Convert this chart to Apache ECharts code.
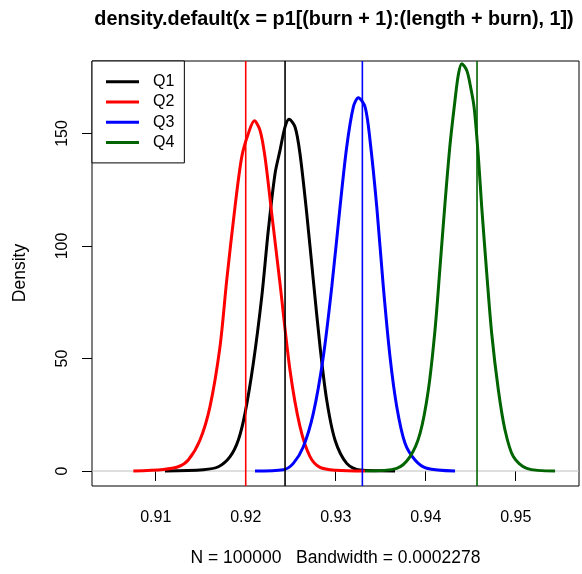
<!DOCTYPE html>
<html>
<head>
<meta charset="utf-8">
<script src="https://cdn.jsdelivr.net/npm/echarts@6/dist/echarts.min.js"></script>
<style>
html,body{margin:0;padding:0;background:#fff;}
#c{width:582px;height:574px;}
</style>
</head>
<body>
<div id="c"></div>
<script>
const xTicks = [0.91, 0.92, 0.93, 0.94, 0.95];
const yTicks = [0, 50, 100, 150];
const seriesNames = ['Q1', 'Q2', 'Q3', 'Q4'];
const seriesColors = ['#000000', '#ff0000', '#0000ff', '#006400'];
const markValues = [0.92437, 0.9200, 0.93296, 0.9457];

const q1 = [[0.91103,0],[0.91529,0.6],[0.91696,1.9],[0.91826,6.4],[0.91918,13.8],[0.91992,25.6],[0.92084,47.8],[0.92178,77.4],[0.92251,107],[0.92326,132.2],[0.92381,142.5],[0.92437,152.9],[0.92481,156.3],[0.92548,152.9],[0.92603,141],[0.92678,114.4],[0.92751,84.8],[0.92826,55.2],[0.929,31.5],[0.92992,13.8],[0.93122,3.4],[0.9327,0.4],[0.93659,0]];
const q2 = [[0.90751,0],[0.91084,0.7],[0.91251,1.9],[0.91362,4.9],[0.91492,13.8],[0.91603,28.6],[0.91714,55.2],[0.91789,84.8],[0.91881,117.4],[0.91956,139.6],[0.92029,150],[0.92096,155.6],[0.92159,151.4],[0.92214,139.6],[0.92289,114.4],[0.92381,83.3],[0.92492,44.8],[0.92603,19.7],[0.92714,6.4],[0.92826,1.6],[0.9300,0.3],[0.93326,0]];
const q3 = [[0.92103,0],[0.92418,0.6],[0.92529,3.4],[0.9264,10.8],[0.92751,25.6],[0.92862,50.8],[0.92956,81.8],[0.93048,117.4],[0.93122,144],[0.93196,161.8],[0.93251,165.9],[0.93326,161.8],[0.93381,147],[0.93456,117.4],[0.93529,81.8],[0.93603,50.8],[0.93678,28.6],[0.9377,12.3],[0.93881,4.9],[0.94011,1.2],[0.94326,0]];
const q4 = [[0.93326,0],[0.93678,1.2],[0.93826,6.4],[0.93937,16.7],[0.94029,36],[0.94103,62.6],[0.94159,90.7],[0.94214,118.9],[0.9427,145],[0.94326,165],[0.94362,176],[0.9440,181],[0.94456,178],[0.94492,172],[0.94537,161.8],[0.94584,140],[0.94622,117.4],[0.94678,87.8],[0.94733,61.1],[0.94807,36],[0.94881,18.2],[0.94973,6.4],[0.95122,1.2],[0.95437,0]];
const curves = [q1, q2, q3, q4];

const X_MIN = 0.90292, X_MAX = 0.95703, Y_MIN = -6.66, Y_MAX = 182.2;
const FONT = "'Liberation Sans', Arial, Helvetica, sans-serif";
const chart = echarts.init(document.getElementById('c'), null, {renderer: 'canvas'});

const series = [];
// zero reference line (gray)
series.push({
  type: 'line', data: [[X_MIN, 0], [X_MAX, 0]], showSymbol: false, symbol: 'none', silent: true,
  lineStyle: {color: '#bebebe', width: 1}, z: 1, animation: false
});
curves.forEach((d, i) => {
  series.push({
    name: seriesNames[i], type: 'line', data: d, showSymbol: false, symbol: 'none',
    smooth: 0.3, color: seriesColors[i], itemStyle: {color: seriesColors[i]},
    lineStyle: {color: seriesColors[i], width: 3}, z: 3, silent: true, animation: false
  });
});
markValues.forEach((v, i) => {
  series.push({
    type: 'line', data: [[v, Y_MIN], [v, Y_MAX]], showSymbol: false, symbol: 'none', silent: true,
    lineStyle: {color: seriesColors[i], width: 1.6}, z: 4, animation: false
  });
});

chart.setOption({
  animation: false,
  backgroundColor: '#ffffff',
  grid: {left: 92, top: 61, width: 487, height: 425, show: true, borderColor: '#000', borderWidth: 1, backgroundColor: 'transparent'},
  xAxis: {
    type: 'value', min: X_MIN, max: X_MAX,
    axisLine: {show: false},
    splitLine: {show: false},
    axisTick: {show: true, length: 10, lineStyle: {color: '#000', width: 1}, customValues: xTicks},
    axisLabel: {show: true, margin: 24, fontSize: 16, color: '#000', fontFamily: FONT, customValues: xTicks,
      formatter: v => v.toFixed(2)}
  },
  yAxis: {
    type: 'value', min: Y_MIN, max: Y_MAX,
    axisLine: {show: false},
    splitLine: {show: false},
    axisTick: {show: true, length: 10, lineStyle: {color: '#000', width: 1}, customValues: yTicks},
    axisLabel: {show: true, margin: 21, rotate: 90, fontSize: 16, color: '#000', fontFamily: FONT, customValues: yTicks,
      formatter: v => String(v)}
  },
  legend: {
    show: true,
    orient: 'vertical',
    left: 92, top: 61,
    data: seriesNames,
    icon: 'rect',
    itemWidth: 33, itemHeight: 3,
    itemGap: 4.3,
    padding: [12.7, 10, 12.3, 14],
    borderColor: '#000', borderWidth: 1, borderRadius: 0,
    backgroundColor: '#fff',
    selectedMode: false,
    textStyle: {fontSize: 16, color: '#000', fontFamily: FONT, padding: [0, 0, 0, 9], lineHeight: 16}
  },
  graphic: [
    {type: 'text', x: 334, y: 20, silent: true,
      style: {text: 'density.default(x = p1[(burn + 1):(length + burn), 1])', fill: '#000',
        font: 'bold 19.8px ' + FONT, textAlign: 'center', textVerticalAlign: 'middle'}},
    {type: 'text', x: 335.5, y: 558, silent: true,
      style: {text: 'N = 100000   Bandwidth = 0.0002278', fill: '#000',
        font: '17.5px ' + FONT, textAlign: 'center', textVerticalAlign: 'middle'}},
    {type: 'text', x: 20, y: 273, rotation: Math.PI / 2, silent: true,
      style: {text: 'Density', fill: '#000',
        font: '17.5px ' + FONT, textAlign: 'center', textVerticalAlign: 'middle'}}
  ],
  series: series
});
</script>
</body>
</html>
